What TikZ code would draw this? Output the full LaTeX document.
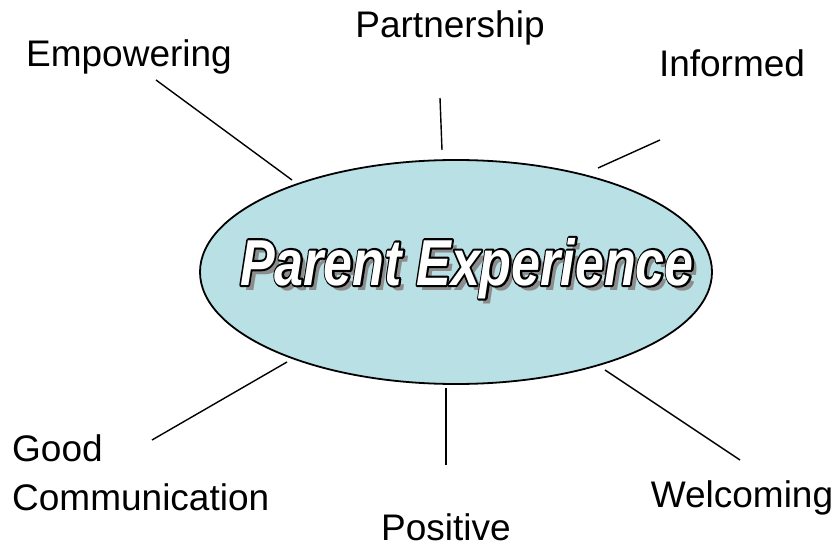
\documentclass[tikz,border=0pt]{standalone}
\usepackage{fontspec}
\setmainfont{Liberation Sans}
\usepackage{graphicx}
\definecolor{ellfill}{RGB}{185,224,228}
\newcommand\pexpraw{\scalebox{0.80}[1]{\fontsize{65}{70}\selectfont\bfseries\itshape Parent Experience}}
\newcommand\pexpstroke{\special{pdf:literal direct 0 G 4.2 w 1 j 1 Tr}\pexpraw\special{pdf:literal direct 0 Tr}}
\begin{document}
\begin{tikzpicture}[x=1pt,y=-1pt,
  lbl/.style={anchor=base,inner sep=0pt,font=\fontsize{37}{44}\selectfont},
  spoke/.style={draw=black,line width=1.4pt},
  ptext/.style={anchor=base,inner sep=0pt}]
\useasboundingbox (0,0) rectangle (838,548);
\fill[white] (0,0) rectangle (838,548);
% central ellipse
\draw[fill=ellfill,line width=1.8pt] (456,272) ellipse [x radius=256, y radius=112];
% shadow, outline and white title
\node[ptext,text=black!45] (pshadow) at (472,290) {\pexpraw};
\node[ptext,text=black] (poutline) at (467,285) {\pexpstroke};
\node[ptext,text=white] (ptitle) at (467,285) {\pexpraw};
% labels
\node[lbl] (emp) at (129,67) {Empowering};
\node[lbl] (part) at (450,38) {Partnership};
\node[lbl] (inf) at (732,77) {Informed};
\node[lbl,anchor=base west] (good) at (12,461) {Good};
\node[lbl,anchor=base west] (comm) at (12,510) {Communication};
\node[lbl] (wel) at (742,507) {Welcoming};
\node[lbl] (pos) at (446,540) {Positive};
% spoke ends
\coordinate (empA) at (156,80);  \coordinate (empB) at (292,180);
\coordinate (partA) at (440,98); \coordinate (partB) at (442,150);
\coordinate (infA) at (660,140); \coordinate (infB) at (598,168);
\coordinate (gcA) at (152,440);  \coordinate (gcB) at (287,362);
\coordinate (posA) at (446,465); \coordinate (posB) at (446,388);
\coordinate (welA) at (740,460); \coordinate (welB) at (605,370);
\draw[spoke] (empA) -- (empB);
\draw[spoke] (partA) -- (partB);
\draw[spoke] (infA) -- (infB);
\draw[spoke] (gcA) -- (gcB);
\draw[spoke] (posA) -- (posB);
\draw[spoke] (welA) -- (welB);
\end{tikzpicture}
\end{document}
